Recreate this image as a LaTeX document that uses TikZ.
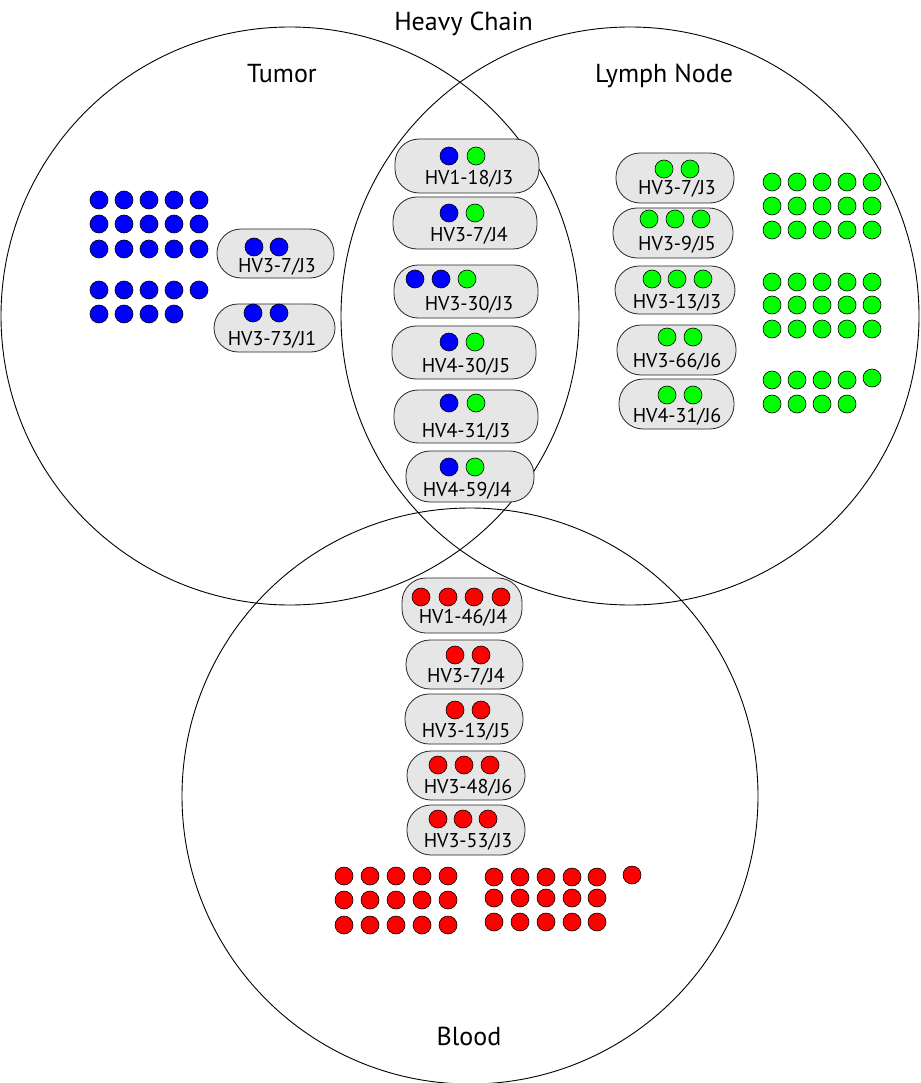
\documentclass[tikz,border=0pt]{standalone}
\usepackage{fontspec}
\setmainfont{PT Sans}
\definecolor{boxgray}{HTML}{E6E6E6}
\definecolor{dotblue}{HTML}{0000FF}
\definecolor{dotgreen}{HTML}{00FF00}
\definecolor{dotred}{HTML}{FF0000}
\tikzset{
  venn/.style={circle, draw=black, line width=0.9pt, inner sep=0pt, outer sep=0pt, minimum size=578pt},
  pill/.style={draw=black!85, fill=boxgray, line width=0.8pt, rounded corners=24pt, inner sep=0pt, outer sep=0pt},
  dotbase/.style={circle, draw=black, line width=0.6pt, minimum size=18pt, inner sep=0pt, outer sep=0pt},
  bdot/.style={dotbase, fill=dotblue},
  gdot/.style={dotbase, fill=dotgreen},
  rdot/.style={dotbase, fill=dotred},
  cl/.style={font=\fontsize{20}{24}\selectfont, anchor=base, inner sep=0pt, text=black},
  ttl/.style={font=\fontsize{26}{30}\selectfont, anchor=base, inner sep=0pt, text=black}
}
\begin{document}
\begin{tikzpicture}[x=1pt,y=-1pt]
\useasboundingbox (0,0) rectangle (920,1083);
\fill[white] (0,0) rectangle (920,1083);

% Venn circles
\node[venn] (tumor) at (290,316) {};
\node[venn] (lymph) at (630,316) {};
\node[venn, minimum size=576pt] (blood) at (470,796) {};

% Titles
\node[ttl] (hc) at (463.5,31) {Heavy Chain};
\node[ttl] (tumorlab) at (282,83) {Tumor};
\node[ttl] (lymphlab) at (664,83) {Lymph Node};
\node[ttl] (bloodlab) at (469,1045) {Blood};

% ---------- Tumor ----------
\foreach \c [count=\i] in {99,124,149,174,199}{
  \foreach \r [count=\j] in {200,224,249}{
    \node[bdot] (tg-a-\i-\j) at (\c,\r) {};
  }
  \node[bdot] (tg-b-\i-1) at (\c,290) {};
}
\foreach \c [count=\i] in {99,124,149,174}{
  \node[bdot] (tg-b-\i-2) at (\c,314) {};
}

\node[pill, minimum width=117pt, minimum height=49pt] (tb1) at (275.5,253.5) {};
\node[bdot] (tb1-d1) at (254,247) {};
\node[bdot] (tb1-d2) at (279,247) {};
\node[cl] (tb1-t) at (277,272) {HV3-7/J3};

\node[pill, minimum width=121pt, minimum height=48pt] (tb2) at (274.5,328) {};
\node[bdot] (tb2-d1) at (253,313) {};
\node[bdot] (tb2-d2) at (279,313) {};
\node[cl] (tb2-t) at (272,345) {HV3-73/J1};

% ---------- Tumor & Lymph ----------
\node[pill, minimum width=144pt, minimum height=54pt] (c1) at (467,166) {};
\node[bdot] (c1-d1) at (449,156) {};
\node[gdot] (c1-d2) at (476,156) {};
\node[cl] (c1-t) at (469,185) {HV1-18/J3};

\node[pill, minimum width=144pt, minimum height=52pt] (c2) at (465,223) {};
\node[bdot] (c2-d1) at (449,213) {};
\node[gdot] (c2-d2) at (475,213) {};
\node[cl] (c2-t) at (469,241) {HV3-7/J4};

\node[pill, minimum width=144pt, minimum height=53pt] (c3) at (466,291.5) {};
\node[bdot] (c3-d1) at (415,279) {};
\node[bdot] (c3-d2) at (441,279) {};
\node[gdot] (c3-d3) at (467,279) {};
\node[cl] (c3-t) at (469,310) {HV3-30/J3};

\node[pill, minimum width=144pt, minimum height=53pt] (c4) at (464,352.5) {};
\node[bdot] (c4-d1) at (449,342) {};
\node[gdot] (c4-d2) at (475,342) {};
\node[cl] (c4-t) at (466,372) {HV4-30/J5};

\node[pill, minimum width=144pt, minimum height=53pt] (c5) at (466,416.5) {};
\node[bdot] (c5-d1) at (449,403) {};
\node[gdot] (c5-d2) at (476,403) {};
\node[cl] (c5-t) at (466,437) {HV4-31/J3};

\node[pill, minimum width=128pt, minimum height=51pt] (c6) at (470,476.5) {};
\node[bdot] (c6-d1) at (449,467) {};
\node[gdot] (c6-d2) at (475,467) {};
\node[cl] (c6-t) at (467,496) {HV4-59/J4};

% ---------- Lymph Node ----------
\node[pill, minimum width=118pt, minimum height=50pt] (l1) at (675,178) {};
\node[gdot] (l1-d1) at (664,169) {};
\node[gdot] (l1-d2) at (690,169) {};
\node[cl] (l1-t) at (677,195) {HV3-7/J3};

\node[pill, minimum width=120pt, minimum height=50pt] (l2) at (673,233) {};
\node[gdot] (l2-d1) at (649,219) {};
\node[gdot] (l2-d2) at (675,219) {};
\node[gdot] (l2-d3) at (701,219) {};
\node[cl] (l2-t) at (677,251) {HV3-9/J5};

\node[pill, minimum width=120pt, minimum height=48pt] (l3) at (675,290) {};
\node[gdot] (l3-d1) at (652,279) {};
\node[gdot] (l3-d2) at (677,279) {};
\node[gdot] (l3-d3) at (703,279) {};
\node[cl] (l3-t) at (677,308) {HV3-13/J3};

\node[pill, minimum width=119pt, minimum height=50pt] (l4) at (676.5,350) {};
\node[gdot] (l4-d1) at (667,337) {};
\node[gdot] (l4-d2) at (693,337) {};
\node[cl] (l4-t) at (677,367) {HV3-66/J6};

\node[pill, minimum width=115pt, minimum height=50pt] (l5) at (676.5,404) {};
\node[gdot] (l5-d1) at (667,395) {};
\node[gdot] (l5-d2) at (693,395) {};
\node[cl] (l5-t) at (677,422) {HV4-31/J6};

\foreach \c [count=\i] in {772,797,822,847,872}{
  \foreach \r [count=\j] in {182,206,230}{
    \node[gdot] (lg-a-\i-\j) at (\c,\r) {};
  }
  \foreach \r [count=\j] in {282,305,329}{
    \node[gdot] (lg-b-\i-\j) at (\c,\r) {};
  }
}
\foreach \c/\r [count=\i] in {772/380,797/380,822/380,847/380,872/378}{
  \node[gdot] (lg-c-\i-1) at (\c,\r) {};
}
\foreach \c [count=\i] in {772,797,822,847}{
  \node[gdot] (lg-c-\i-2) at (\c,404) {};
}

% ---------- Blood ----------
\node[pill, minimum width=120pt, minimum height=55pt] (r1) at (462,605.5) {};
\node[rdot] (r1-d1) at (421,597) {};
\node[rdot] (r1-d2) at (448,597) {};
\node[rdot] (r1-d3) at (474,597) {};
\node[rdot] (r1-d4) at (501,597) {};
\node[cl] (r1-t) at (463,623) {HV1-46/J4};

\node[pill, minimum width=117pt, minimum height=49pt] (r2) at (464.5,664.5) {};
\node[rdot] (r2-d1) at (455,655) {};
\node[rdot] (r2-d2) at (481,655) {};
\node[cl] (r2-t) at (466,682) {HV3-7/J4};

\node[pill, minimum width=118pt, minimum height=50pt] (r3) at (464,719) {};
\node[rdot] (r3-d1) at (455,710) {};
\node[rdot] (r3-d2) at (481,710) {};
\node[cl] (r3-t) at (466,737) {HV3-13/J5};

\node[pill, minimum width=118pt, minimum height=49pt] (r4) at (466,775.5) {};
\node[rdot] (r4-d1) at (438,765) {};
\node[rdot] (r4-d2) at (464,765) {};
\node[rdot] (r4-d3) at (490,765) {};
\node[cl] (r4-t) at (468,793) {HV3-48/J6};

\node[pill, minimum width=118pt, minimum height=50pt] (r5) at (466,830) {};
\node[rdot] (r5-d1) at (438,819) {};
\node[rdot] (r5-d2) at (463,819) {};
\node[rdot] (r5-d3) at (488,819) {};
\node[cl] (r5-t) at (468,847) {HV3-53/J3};

\foreach \c [count=\i] in {344,370,396,422,448}{
  \foreach \r [count=\j] in {876,900,925}{
    \node[rdot] (rg-a-\i-\j) at (\c,\r) {};
  }
}
\foreach \c [count=\i] in {494,520,546,572,597}{
  \foreach \r [count=\j] in {877,898,922}{
    \node[rdot] (rg-b-\i-\j) at (\c,\r) {};
  }
}
\node[rdot] (rg-extra) at (632,875) {};
\end{tikzpicture}
\end{document}
